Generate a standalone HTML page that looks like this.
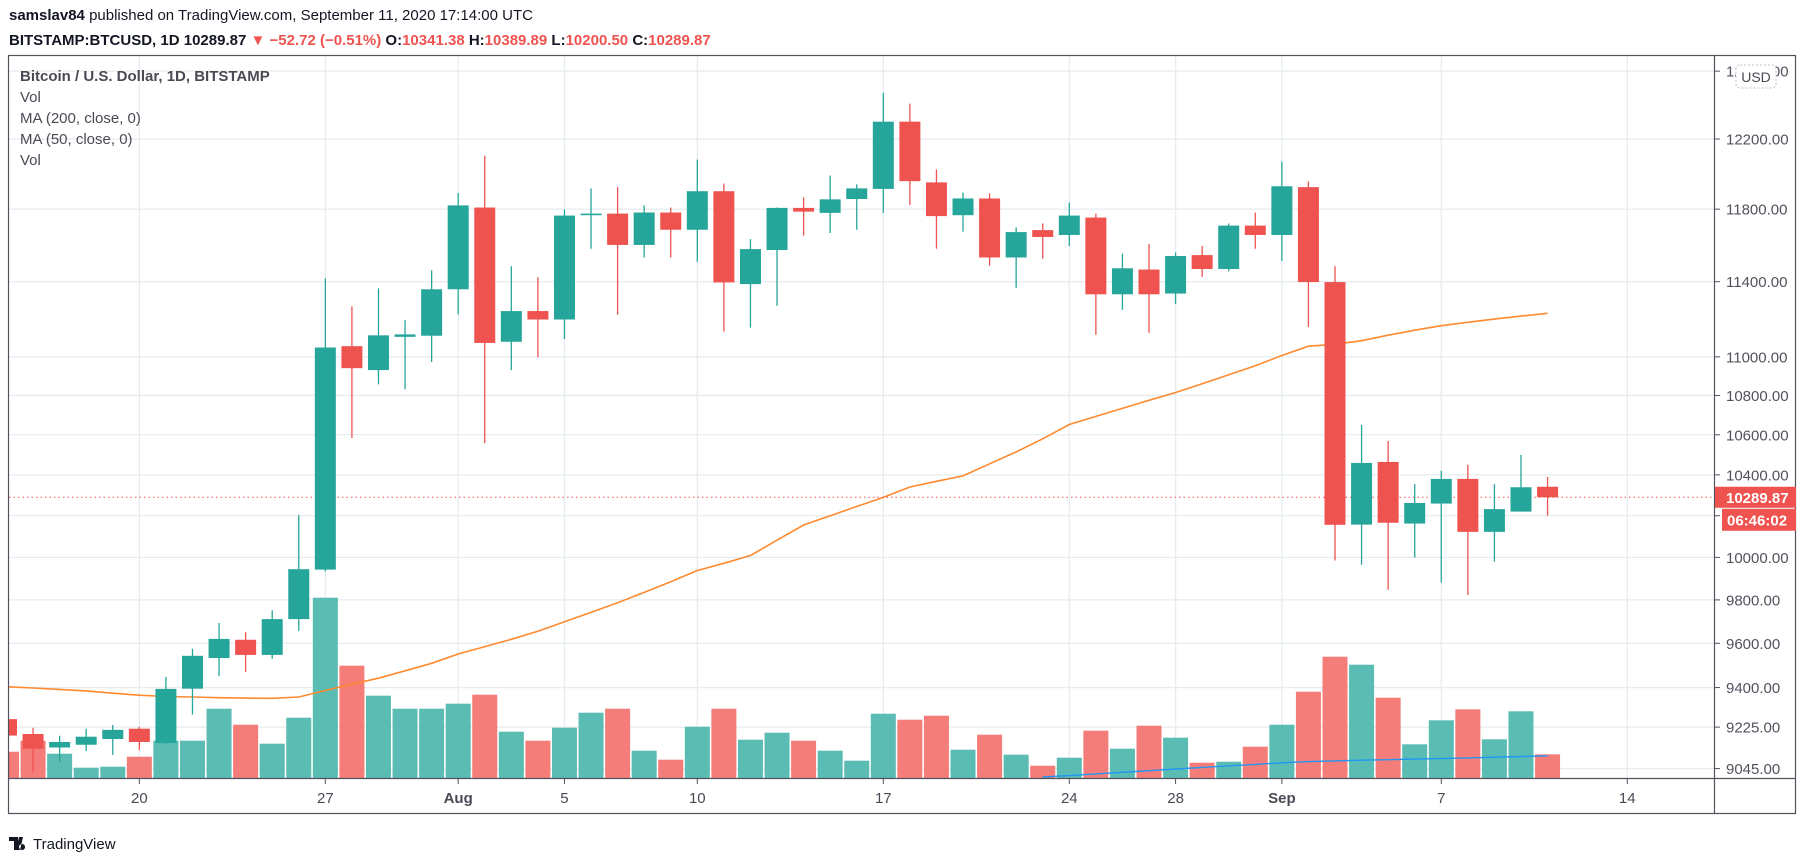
<!DOCTYPE html>
<html><head><meta charset="utf-8"><style>
html,body{margin:0;padding:0;background:#fff;}
body{width:1805px;height:861px;overflow:hidden;font-family:"Liberation Sans",sans-serif;}
svg text{font-family:"Liberation Sans",sans-serif;}
</style></head><body>
<svg id="chart" width="1805" height="861" viewBox="0 0 1805 861" xmlns="http://www.w3.org/2000/svg">
  <text x="9" y="20" font-size="15" fill="#131722"><tspan font-weight="bold">samslav84</tspan> published on TradingView.com, September 11, 2020 17:14:00 UTC</text>
  <text x="9" y="45" font-size="15" font-weight="bold" fill="#131722">BITSTAMP:BTCUSD, 1D <tspan fill="#131722">10289.87</tspan> <tspan fill="#ef5350">▼ −52.72 (−0.51%)</tspan> O:<tspan fill="#ef5350">10341.38</tspan> H:<tspan fill="#ef5350">10389.89</tspan> L:<tspan fill="#ef5350">10200.50</tspan> C:<tspan fill="#ef5350">10289.87</tspan></text>
  <defs><clipPath id="plotclip"><rect x="9" y="56" width="1706" height="722"/></clipPath></defs>
  <g id="grid"></g>
  <g id="plot" clip-path="url(#plotclip)"></g>
  <rect x="8.5" y="55.5" width="1787" height="758" fill="none" stroke="#50535e" stroke-width="1.2"/>
  <line x1="1714.5" y1="55" x2="1714.5" y2="814" stroke="#50535e" stroke-width="1.2"/>
  <line x1="9" y1="778.5" x2="1796" y2="778.5" stroke="#50535e" stroke-width="1.2"/>
  <g id="axes"></g>
  <g font-size="15" fill="#4a4a55">
    <text x="20" y="81" font-weight="bold">Bitcoin / U.S. Dollar, 1D, BITSTAMP</text>
    <text x="20" y="102">Vol</text>
    <text x="20" y="123">MA (200, close, 0)</text>
    <text x="20" y="144">MA (50, close, 0)</text>
    <text x="20" y="165">Vol</text>
  </g>
  <g>
    <rect x="1736" y="65" width="40" height="23" rx="4" fill="#fff" stroke="#b8c2cc" stroke-dasharray="2,2"/>
    <text x="1756" y="82" font-size="14" text-anchor="middle" fill="#4a4a55">USD</text>
  </g>
  <g>
    <path d="M9 837 h9 v13 h-4 v-9 h-5z M19 837 h4 l-3 13 h-4z M22 844 a3 3 0 1 0 0.1 0z" fill="#131722"/>
    <text x="33" y="849" font-size="15" fill="#131722">TradingView</text>
  </g>
</svg>
<script>
const dayCount = 59;
const opens = [9260,9195,9136,9148,9173,9218,9155,9395,9533,9616,9547,9711,9942,11056,10931,11105,11111,
 11359,11809,11079,11242,11197,11766,11775,11601,11781,11685,11901,11387,11573,11807,11779,11857,11914,12301,11951,11766,11860,11532,11683,11656,11753,11332,11466,11336,11545,11469,11708,
 11656,11924,11398,10157,10464,10162,10259,10380,10122,10220,10341.38];
const highs = [9280,9222,9187,9218,9234,9226,9448,9575,9693,9651,9752,10204,11418,11267,11364,11195,11462,
 11891,12104,11484,11424,11798,11917,11924,11821,11809,12081,11945,11633,11809,11866,11990,11940,12471,12407,12024,11894,11889,11698,11720,11837,11775,11553,11606,11560,11595,11720,11781,
 12070,11956,11484,10650,10569,10354,10420,10450,10354,10499,10389.89];
const lows = [9170,9028,9073,9121,9104,9125,9150,9280,9452,9470,9529,9656,9933,10584,10857,10832,10973,
 11224,10558,10931,10998,11094,11580,11222,11532,11532,11508,11133,11154,11270,11652,11667,11685,11779,11823,11580,11674,11487,11366,11525,11595,11116,11249,11126,11280,11426,11456,11580,
 11513,11158,9985,9965,9848,9999,9881,9823,9980,10220,10200.5];
const closes = [9188,9131,9160,9183,9213,9160,9394,9543,9620,9547,9711,9944,11049,10941,11113,11118,11359,
 11821,11073,11242,11197,11764,11775,11601,11781,11685,11901,11396,11578,11807,11786,11855,11917,12301,11958,11761,11860,11532,11672,11645,11764,11332,11473,11332,11540,11469,11708,11656,
 11929,11398,10156,10459,10166,10262,10380,10122,10232,10339,10289.87];
const volumes = [2630,3730,2430,1030,1130,2130,3730,3730,6930,5330,3430,6030,18030,11230,8230,6930,6930,
 7430,8330,4630,3730,5030,6530,6930,2730,1830,5130,6930,3830,4530,3730,2730,1730,6430,5830,6230,2830,4330,2330,1230,2030,4730,2930,5230,4030,1530,1630,3130,
 5330,8630,12130,11330,8030,3370,5770,6870,3870,6670,2370];
const ma50 = [9404,9398,9392,9385,9375,9366,9360,9358,9355,9353,9352,9358,9387,9415,9442,9475,9509,
 9551,9585,9618,9655,9699,9742,9787,9835,9885,9938,9972,10009,10082,10155,10200,10245,10289,10340,10368,10395,10455,10514,10580,10652,10693,10734,10775,10815,10860,10907,10954,
 11007,11056,11066,11085,11114,11140,11164,11182,11199,11215,11230];
const ma200Start = 39;
const ma200 = [9009,9015,9022,9029,9036,9043,9050,9057,9063,9070,9075,9078,9081,9083,9086,9088,9091,9094,9097,9100];
const priceTicks = [12600,12200,11800,11400,11000,10800,10600,10400,10200,10000,9800,9600,9400,9225,9045];
const dateTickLabels = ["20","27","Aug","5","10","17","24","28","Sep","7","14"];
const dateTickIndex = [5,12,17,21,26,33,40,44,48,54,61];
const lastPrice = 10289.87;

const NS = "http://www.w3.org/2000/svg";
const X0 = 6.5, DX = 26.57;
function xAt(i){ return X0 + i*DX; }
function yAt(p){ return 139 + 2104*Math.log(12200/p); }
const volBase = 778, volPxPerUnit = 0.01;
function volH(v){ return v*volPxPerUnit; }
function mk(tag, attrs, parent){
  const e = document.createElementNS(NS, tag);
  for (const k in attrs) e.setAttribute(k, attrs[k]);
  parent.appendChild(e); return e;
}
const grid = document.getElementById('grid');
const plot = document.getElementById('plot');
const axes = document.getElementById('axes');

priceTicks.forEach((p) => {
  const y = yAt(p);
  const g = mk('line', {x1:9, x2:1714, y1:y, y2:y, stroke:'#e6ecef', 'stroke-width':1.3}, grid);
  
  
  const tk = mk('line', {x1:1714, x2:1720, y1:y, y2:y, stroke:'#50535e'}, axes);
  
  
  const t = mk('text', {x:1726, y:y+5.5, 'font-size':15, fill:'#50535e'}, axes);
  
  
  t.textContent = p.toFixed(2);
});
dateTickIndex.forEach((di, k) => {
  const x = xAt(di);
  const g = mk('line', {x1:x, x2:x, y1:56, y2:778, stroke:'#e6ecef', 'stroke-width':1.3}, grid);
  
  
  const tk = mk('line', {x1:x, x2:x, y1:778, y2:784, stroke:'#50535e'}, axes);
  
  
  const lab = dateTickLabels[k];
  const t = mk('text', {x:x, y:803, 'font-size':15, fill:'#4a4a55', 'text-anchor':'middle'}, axes);
  if (isNaN(+lab)) t.setAttribute('font-weight', 'bold');
  
  
  t.textContent = lab;
});

for (let i = 0; i < dayCount; i++) {
  const up = closes[i] >= opens[i];
  const h = volH(volumes[i]);
  const r = mk('rect', {x:xAt(i)-12.5, y:volBase-h, width:25, height:h, fill: up ? '#5bbcb3' : '#f47d79'}, plot);
  
  
}
let d = '';
ma50.forEach((v, i) => { d += (i ? 'L' : 'M') + xAt(i).toFixed(1) + ' ' + yAt(v).toFixed(1) + ' '; });
const l50 = mk('path', {d:d, fill:'none', stroke:'#ff8a2f', 'stroke-width':1.6}, plot);


d = '';
ma200.forEach((v, i) => { d += (i ? 'L' : 'M') + xAt(i+ma200Start).toFixed(1) + ' ' + yAt(v).toFixed(1) + ' '; });
const l200 = mk('path', {d:d, fill:'none', stroke:'#2196f3', 'stroke-width':1.4}, plot);


const ly = yAt(lastPrice);
const pl = mk('line', {x1:9, x2:1714, y1:ly, y2:ly, stroke:'#ef5350', 'stroke-width':1, 'stroke-dasharray':'1.5,3'}, plot);


for (let i = 0; i < dayCount; i++) {
  const up = closes[i] >= opens[i];
  const col = up ? '#26a69a' : '#ef5350';
  const x = xAt(i);
  const w = mk('line', {x1:x, x2:x, y1:yAt(highs[i]), y2:yAt(lows[i]), stroke:col, 'stroke-width':1.3}, plot);
  
  
  const yt = yAt(Math.max(opens[i], closes[i])), yb = yAt(Math.min(opens[i], closes[i]));
  const b = mk('rect', {x:x-10.5, y:yt, width:21, height:Math.max(1.5, yb-yt), fill:col}, plot);
  
  
}
const lbl = mk('rect', {x:1715, y:ly-10.5, width:81, height:21, fill:'#ef5350'}, axes);


const lt = mk('text', {x:1726, y:ly+5.5, 'font-size':15, fill:'#fff', 'font-weight':'bold'}, axes);


lt.textContent = lastPrice.toFixed(2);
const cd = mk('rect', {x:1722, y:ly+11.5, width:74, height:22, fill:'#ef5350'}, axes);


const ct = mk('text', {x:1727, y:ly+28, 'font-size':15, fill:'#fff', 'font-weight':'bold'}, axes);


ct.textContent = '06:46:02';
</script>
</body></html>
